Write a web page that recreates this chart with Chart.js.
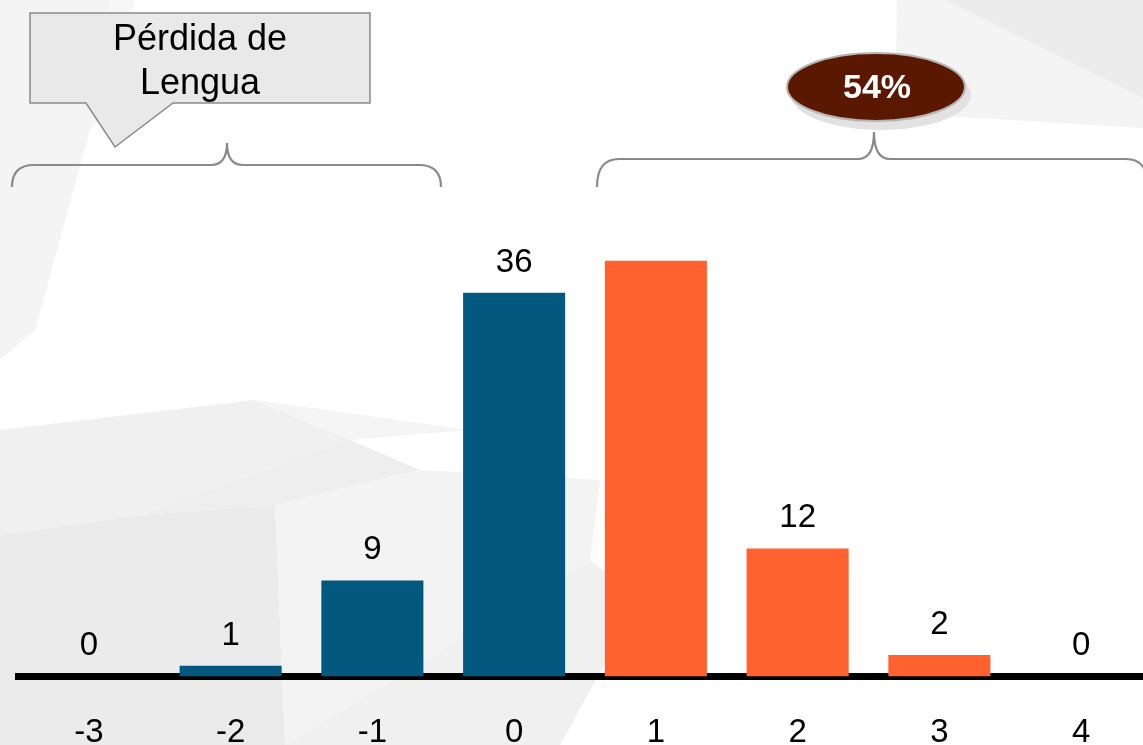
<!DOCTYPE html>
<html>
<head>
<meta charset="utf-8">
<script src="https://cdn.jsdelivr.net/npm/chart.js@4"></script>
<style>
  html, body { margin: 0; padding: 0; background: #fff; overflow: hidden; }
  #wrap { width: 1143px; height: 745px; overflow: hidden; position: relative; }
  canvas { position: absolute; left: 0; top: 0; }
</style>
</head>
<body>
<div id="wrap"><canvas id="myChart" width="1160" height="782"></canvas></div>
<script>
// data
const categories = ["-3", "-2", "-1", "0", "1", "2", "3", "4"];
const counts = [0, 1, 9, 36, 39, 12, 2, 0];
const hiddenLabels = ["1"]; // no value printed above this bar in the original
const calloutLines = ["Pérdida de", "Lengua"];
const gainText = "54%";

const BLUE = "#03587f";
const ORANGE = "#ff612f";
const FONT = "'Liberation Sans', Arial, sans-serif";

// light low-poly backdrop
const bgPlugin = {
    id: "bg",
    beforeDraw(chart) {
        const ctx = chart.ctx;
        const polys = [
            ["#f4f4f4", [[0, 0], [110, 0], [90, 130], [35, 330], [0, 360]]],
            ["#f7f7f7", [[110, 0], [135, 0], [100, 120], [90, 130]]],
            ["#f0f0f0", [[0, 430], [255, 400], [350, 440], [140, 515], [0, 535]]],
            ["#f5f5f5", [[255, 400], [470, 430], [350, 440]]],
            ["#ebebeb", [[0, 535], [140, 515], [275, 505], [285, 745], [0, 745]]],
            ["#eeeeee", [[140, 515], [350, 440], [420, 470], [275, 505]]],
            ["#f3f3f3", [[275, 505], [420, 470], [600, 480], [590, 560], [285, 745]]],
            ["#f0f0f0", [[285, 745], [590, 560], [640, 600], [560, 745]]],
            ["#f4f4f4", [[897, 0], [1143, 0], [1143, 128], [895, 113]]],
            ["#ececec", [[945, 0], [1143, 0], [1143, 98]]]
        ];
        ctx.save();
        polys.forEach(([c, pts]) => {
            ctx.beginPath();
            pts.forEach((p, i) => (i ? ctx.lineTo(p[0], p[1]) : ctx.moveTo(p[0], p[1])));
            ctx.closePath();
            ctx.fillStyle = c;
            ctx.fill();
        });
        ctx.restore();
    },
};

function brace(ctx, x1, x2, xm, yPeak, yH, yEnd) {
    const r = 22, r2 = 16;
    ctx.beginPath();
    ctx.moveTo(x1, yEnd);
    ctx.quadraticCurveTo(x1, yH, x1 + r, yH);
    ctx.lineTo(xm - r2, yH);
    ctx.quadraticCurveTo(xm, yH, xm, yPeak);
    ctx.quadraticCurveTo(xm, yH, xm + r2, yH);
    ctx.lineTo(x2 - r, yH);
    ctx.quadraticCurveTo(x2, yH, x2, yEnd);
    ctx.stroke();
}

// value labels above bars
const labelPlugin = {
    id: "valueLabels",
    afterDatasetsDraw(chart) {
        const ctx = chart.ctx;
        const meta = chart.getDatasetMeta(0);
        ctx.save();
        ctx.font = "33px " + FONT;
        ctx.fillStyle = "#000";
        ctx.textAlign = "center";
        ctx.textBaseline = "alphabetic";
        meta.data.forEach((bar, i) => {
            if (hiddenLabels.includes(categories[i])) return;
            ctx.fillText(String(counts[i]), bar.x, bar.y - 21);
        });
        ctx.restore();
    },
};

// callout, braces and the percentage badge
const notesPlugin = {
    id: "notes",
    afterDraw(chart) {
        const ctx = chart.ctx;
        ctx.save();
        // callout box with tail
        ctx.beginPath();
        ctx.moveTo(30, 13);
        ctx.lineTo(370, 13);
        ctx.lineTo(370, 103);
        ctx.lineTo(173, 103);
        ctx.lineTo(115, 147);
        ctx.lineTo(86, 103);
        ctx.lineTo(30, 103);
        ctx.closePath();
        ctx.fillStyle = "#e9e9e9";
        ctx.fill();
        ctx.strokeStyle = "#8a8a8a";
        ctx.lineWidth = 1.5;
        ctx.stroke();
        ctx.fillStyle = "#000";
        ctx.font = "36px " + FONT;
        ctx.textAlign = "center";
        ctx.fillText(calloutLines[0], 200, 50);
        ctx.fillText(calloutLines[1], 200, 94);

        // braces
        ctx.strokeStyle = "#8a8a8a";
        ctx.lineWidth = 2.2;
        brace(ctx, 12, 441, 227, 143, 165, 187);
        brace(ctx, 597, 1148, 874, 132, 159, 187);

        // badge shadow
        ctx.fillStyle = "#e2e2e2";
        ctx.beginPath();
        ctx.ellipse(881, 95, 90, 35, 0, 0, Math.PI * 2);
        ctx.fill();
        // badge
        ctx.beginPath();
        ctx.ellipse(876, 87, 89, 34, 0, 0, Math.PI * 2);
        ctx.fillStyle = "#5a1800";
        ctx.fill();
        ctx.strokeStyle = "#b5b5b5";
        ctx.lineWidth = 2;
        ctx.stroke();
        ctx.fillStyle = "#fff";
        ctx.font = "bold 34px " + FONT;
        ctx.textBaseline = "middle";
        ctx.fillText(gainText, 877, 89);
        ctx.restore();
    },
};

new Chart(document.getElementById("myChart"), {
    type: "bar",
    data: {
        labels: categories,
        datasets: [
            {
                data: counts,
                backgroundColor: categories.map((c) => (Number(c) <= 0 ? BLUE : ORANGE)),
                barPercentage: 0.72,
                categoryPercentage: 1,
            },
        ],
    },
    options: {
        responsive: false,
        animation: false,
        layout: { padding: { top: 250, left: 18, right: 8, bottom: 0 } },
        plugins: {
            legend: { display: false },
            tooltip: { enabled: false },
        },
        scales: {
            x: {
                z: 1,
                grid: { display: false },
                border: { display: true, color: "#000", width: 7 },
                ticks: {
                    color: "#000",
                    padding: 29,
                    font: { size: 33, family: FONT },
                },
            },
            y: {
                display: false,
                min: 0,
                max: 40,
            },
        },
    },
    plugins: [bgPlugin, labelPlugin, notesPlugin],
});
</script>
</body>
</html>
